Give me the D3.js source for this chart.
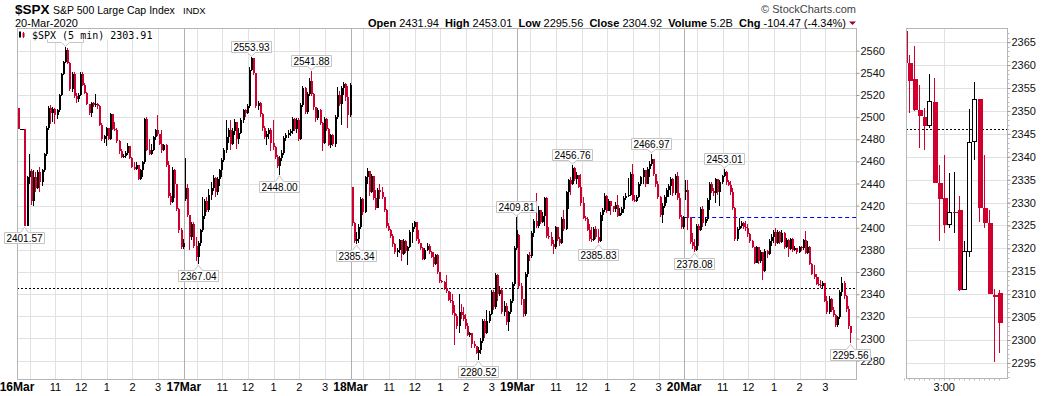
<!DOCTYPE html>
<html>
<head>
<meta charset="utf-8">
<script src="https://cdn.jsdelivr.net/npm/d3@7/dist/d3.min.js"></script>
<style>
  body { margin: 0; background: #fff; }
  svg { display: block; font-family: "Liberation Sans", Arial, sans-serif; }
</style>
</head>
<body>
<div class="chart"></div>
<script>
// sessions shown on the 5 min chart
const dayLabels = ["16Mar", "17Mar", "18Mar", "19Mar", "20Mar"];
const dayOpens = [2508.6, 2425.66, 2436.5, 2393.48, 2431.94];
// bars after the 9:30 open for 10:00 .. 3:00, and the labels printed under 11 .. 3
const hourBars = [6, 18, 30, 42, 54, 66];
const hourLabels = ["11", "12", "1", "2", "3"];
const yTicks = [2280, 2300, 2320, 2340, 2360, 2380, 2400, 2420, 2440, 2460, 2480, 2500, 2520, 2540, 2560];

// 5 min bars, [high, low, close]; open is the prior close
const mar16 = [
  [2508.6,2489,2489],[2489,2489,2489],[2489,2489,2489],[2489,2401.57,2402],[2447,2401.6,2446],
  [2467,2440,2451],[2453,2421,2424],[2452,2420,2446],[2450,2432,2436],[2452,2435,2450],
  [2455,2432,2441],[2453,2438,2452],[2468,2450,2467],[2492,2465,2490],[2510,2488,2508],
  [2511,2494,2504],[2509,2496,2507],[2508,2494,2502],[2507,2498,2506],[2521,2505,2520],
  [2540,2519,2539],[2551,2538,2550],[2562.98,2549,2561],[2562,2548,2549],[2550,2524,2525],
  [2541,2523,2539],[2541,2517,2519],[2522,2513,2516],[2522,2514,2520],[2541,2519,2539],
  [2541,2528,2529],[2531,2521,2522],[2523,2511,2512],[2512,2502,2504],[2514,2500,2513],
  [2514,2509,2511],[2521,2509,2512],[2513,2507,2510],[2511,2492,2493],[2495,2478,2480],
  [2484,2477,2483],[2491,2474,2490],[2490,2479,2480],[2504,2479,2503],[2503,2488,2489],
  [2496,2487,2488],[2490,2477,2478],[2479,2467,2469],[2471,2463,2464],[2467,2463,2465],
  [2469,2463,2468],[2477,2466,2474],[2474,2462,2463],[2464,2454,2455],[2459,2452,2453],
  [2459,2452,2457],[2457,2443,2444],[2453,2443,2452],[2460,2446,2459],[2499,2458,2498],
  [2500,2469,2470],[2480,2466,2467],[2476,2466,2470],[2483,2469,2482],[2489,2479,2488],
  [2502,2483,2485],[2485,2475,2476],[2488,2468,2470],[2476,2469,2475],[2476,2455,2457],
  [2460,2427,2429],[2431,2421,2423],[2455,2422,2452],[2453,2427,2440],[2440,2415,2417],
  [2418,2395,2398],[2400,2381,2383],[2390,2380.94,2386.13]
];
const mar17 = [
  [2463,2424,2436],[2440,2410,2412],[2412,2380,2392],[2405,2389,2403],[2405,2382,2384],
  [2392,2370,2374],[2388,2367.04,2386],[2399,2384,2398],[2428,2396,2411],[2426,2408,2424],
  [2428,2414,2416],[2435,2414,2430],[2441,2425,2436],[2448,2433,2445],[2446,2428,2432],
  [2446,2430,2444],[2453,2438,2452],[2463,2446,2461],[2472,2459,2470],[2497,2468,2482],
  [2490,2477,2488],[2497,2470,2476],[2490,2475,2487],[2498,2484,2496],[2496,2471,2480],
  [2490,2476,2486],[2499,2485,2497],[2507,2495,2506],[2507,2500,2504],[2512,2503,2510],
  [2545,2508,2543],[2553.93,2542,2553],[2553,2538,2540],[2534,2508,2510],[2515,2506,2513],
  [2514,2500,2503],[2504,2487,2490],[2492,2480,2482],[2487,2475,2485],[2490,2480,2488],
  [2490,2469,2477],[2497,2470,2473],[2474,2462,2464],[2466,2454,2456],[2465,2448,2463],
  [2470,2460,2468],[2483,2466,2481],[2486,2478,2484],[2488,2481,2486],[2489,2483,2487],
  [2500,2485,2498],[2499,2487,2489],[2499,2486,2497],[2499,2478,2480],[2513,2479,2511],
  [2528,2509,2526],[2527,2503,2505],[2523,2503,2521],[2535,2519,2533],[2541.88,2519,2521],
  [2522,2506,2509],[2508,2496,2499],[2508,2497,2506],[2507,2493,2495],[2496,2469,2477],
  [2500,2476,2498],[2499,2487,2489],[2490,2474,2475],[2485,2472,2484],[2485,2474,2476],
  [2502,2473,2500],[2527,2498,2520],[2524,2510,2512],[2528,2493,2526],[2532,2520,2530],
  [2531,2515,2518],[2528,2490,2502],[2531,2500,2529.19]
];
const mar18 = [
  [2437,2402,2404],[2405,2386,2388],[2396,2385.34,2390],[2403,2386,2401],[2428,2399,2426],
  [2427,2412,2414],[2447,2413,2446],[2453.57,2440,2451],[2450,2429,2432],[2449,2431,2447],
  [2446,2425,2427],[2434,2416,2418],[2436,2418,2434],[2440,2426,2432],[2437,2426,2428],
  [2424,2414,2416],[2417,2400,2402],[2404,2397,2398],[2399,2391,2393],[2394,2383,2385],
  [2386,2376,2378],[2382,2374,2380],[2390,2377,2389],[2388,2370,2376],[2390,2375,2388],
  [2389,2377,2379],[2384,2366,2383],[2398,2382,2396],[2404,2386,2401],[2406,2399,2405],
  [2404,2388,2390],[2398,2385,2386],[2386,2380,2382],[2383,2371,2372],[2382,2371,2380],
  [2386,2379,2384],[2385,2376,2378],[2379,2373,2374],[2378,2365,2367],[2376,2366,2375],
  [2376,2358,2360],[2360,2350,2352],[2353,2350,2351],[2352,2344,2346],[2357,2341,2343],
  [2343,2334,2335],[2342,2332,2334],[2340,2321,2323],[2330,2294,2320],[2322,2309,2311],
  [2340,2305,2324],[2331,2318,2321],[2328,2316,2318],[2322,2309,2311],[2314,2302,2303],
  [2306,2301,2305],[2305,2291,2295],[2298,2291,2293],[2292,2286,2287],[2292,2280.52,2290],
  [2300,2286,2298],[2318,2296,2316],[2318,2300,2305],[2326,2304,2316],[2325,2314,2322],
  [2344,2321,2342],[2344,2326,2328],[2359,2327,2357],[2358,2334,2340],[2347,2338,2344],
  [2346,2322,2324],[2334,2320,2329],[2332,2312,2315],[2325,2307,2324],[2336,2322,2334],
  [2351,2332,2349],[2384,2347,2382],[2409.81,2380,2398.1]
];
const mar19 = [
  [2394,2345,2347],[2350,2330,2336],[2336,2319.78,2322],[2360,2320,2358],[2376,2356,2375],
  [2378,2370,2374.5],[2397,2373,2395],[2408,2392,2406],[2431,2400,2402],[2420,2400,2416],
  [2416,2403,2405],[2414,2404,2411],[2428,2402,2427],[2428,2391,2393],[2401,2390,2392],
  [2396,2384,2385],[2389,2376,2383],[2402,2381,2401],[2401,2388,2390],[2392,2384,2386],
  [2410,2385,2408],[2416,2397,2399],[2433,2398,2432],[2444,2417,2443],[2446,2430,2440],
  [2456.76,2439,2454],[2455,2442,2444],[2450,2440,2448],[2445,2436,2437],[2449,2420,2422],
  [2428,2408,2409],[2411,2406,2408],[2410,2397,2398],[2403,2388,2390],[2401,2387,2389],
  [2401,2388,2399],[2402,2390,2392],[2399,2385.83,2388],[2414,2387,2412],[2418,2406,2416],
  [2431,2414,2429],[2430,2413,2415],[2426,2415,2424],[2423,2412,2420],[2420,2414,2417],
  [2423,2414,2421],[2430,2410,2411],[2418,2411,2413],[2419,2412,2417],[2429,2413,2427],
  [2431,2425,2429],[2445,2428,2430],[2450,2429,2449],[2458,2424,2425],[2430,2423,2424],
  [2430,2423,2428],[2441,2427,2440],[2447,2438,2446],[2454,2440,2452],[2451,2437,2440],
  [2455,2440,2453],[2460,2446,2458],[2466.97,2456,2462],[2462,2447,2449],[2449,2437,2440],
  [2442,2426,2428],[2429,2410,2412],[2422,2404,2420],[2430,2418,2428],[2436,2422,2434],
  [2440,2428,2438],[2446,2430,2444],[2445,2429,2431],[2449,2430,2447],[2450,2425,2427],
  [2431,2408,2410],[2412,2399,2401],[2411,2399,2409.39]
];
const mar20 = [
  [2443,2425,2434],[2443,2398,2409],[2410,2385,2387],[2395,2381,2384],[2390,2378.08,2380],
  [2403,2379,2402],[2403,2384,2398],[2419,2397,2417],[2420,2401,2404],[2410,2402,2408],
  [2427,2406,2425],[2441,2416,2440],[2441,2431,2433],[2436,2429,2431],[2445,2422,2444],
  [2441,2430,2432],[2443,2420,2441],[2448,2440,2447],[2453.01,2446,2450],[2451,2439,2441],
  [2443,2438,2439],[2442,2430,2432],[2436,2416,2418],[2419,2388,2390],[2401,2388,2399],
  [2409,2398,2402],[2406,2400,2404],[2405,2399,2401],[2406,2397,2400],[2403,2392,2394],
  [2395,2386,2388],[2389,2382,2383],[2382,2367,2368],[2384,2368,2383],[2383,2367,2370],
  [2380,2368,2378],[2378,2353,2361],[2381,2360,2379],[2380,2373,2376],[2390,2375,2388],
  [2394,2384,2392],[2398,2386,2396],[2400,2384,2386],[2398,2385,2396],[2397,2385,2387],
  [2398,2386,2395],[2396,2381,2383],[2391,2382,2389],[2390,2374,2381],[2391,2380,2390],
  [2391,2378,2380],[2384,2379,2382],[2381,2376,2378],[2384,2377,2383],[2384,2379,2382],
  [2390,2380,2389],[2397,2376,2377],[2388,2376,2383],[2384,2366,2367],[2368,2357,2358],
  [2366,2354,2356],[2358,2348,2349],[2356,2347,2348],[2353,2346,2347],[2352,2345,2350],
  [2350,2333,2334],[2338,2322,2324],[2338,2322,2336],[2337,2324,2326],[2328,2319,2321],
  [2322,2310,2312],[2320,2310,2319],[2344,2318,2342],[2356,2338,2350],[2352,2336,2338],
  [2339,2324,2327],[2329,2309,2311],[2311,2295.56,2304.92]
];

// labelled highs and lows: [session, bar, value, side]
// the 16Mar high label sits under the legend, so only its box edge shows
const callouts = [
  [0, 3, 2401.57, "below"], [0, 22, 2562.98, "hidden"],
  [1, 6, 2367.04, "below"], [1, 31, 2553.93, "above"], [1, 44, 2448.00, "below"], [1, 59, 2541.88, "above"],
  [2, 2, 2385.34, "below"], [2, 59, 2280.52, "below"], [2, 77, 2409.81, "above"],
  [3, 25, 2456.76, "above"], [3, 37, 2385.83, "below"], [3, 62, 2466.97, "above"],
  [4, 4, 2378.08, "below"], [4, 18, 2453.01, "above"], [4, 77, 2295.56, "below"]
];
const refLevel = 2346;
const priorClose = 2409.39;

// small panel on the right, [open, high, low, close]
const miniBars = [
  [2367.5,2367.5,2360,2360.4],[2360.4,2362.1,2349.6,2356.6],[2357,2364.1,2350,2350.2],
  [2350.2,2355.7,2341.8,2349],[2348.6,2350.6,2341.5,2346.8],[2346.9,2358.1,2346.2,2352],
  [2352,2357.1,2334.2,2334.3],[2334.3,2338.2,2321.7,2330.8],[2331.1,2340.4,2323.4,2325.2],
  [2325.2,2336.5,2324.4,2327.9],[2327.9,2336.7,2323.3,2327.9],[2328.4,2331.5,2310.7,2311],
  [2311,2321.7,2310.9,2319.4],[2319.4,2350.4,2318.2,2343.2],[2343.4,2356.3,2339.3,2352.4],
  [2352.6,2352.6,2325.8,2328.9],[2328.9,2340.4,2324.4,2325.5],[2325.5,2328.4,2310,2310],
  [2309.8,2311.2,2295.2,2309.3],[2310.3,2310.9,2297.2,2303.6]
];
const miniTimes = ["2:52","2:53","2:54","2:55","2:56","2:57","2:58","2:59","3:00","3:01",
  "3:02","3:03","3:04","3:05","3:06","3:07","3:08","3:09","3:10","3:11"];
const miniTicks = [2295, 2300, 2305, 2310, 2315, 2320, 2325, 2330, 2335, 2340, 2345, 2350, 2355, 2360, 2365];

const width = 1050, height = 396;
const plot = { left: 17, right: 856, top: 28, bottom: 379 };
const mini = { left: 906, right: 1007, top: 28, bottom: 378 };
const red = "#d0002e";
const gridColor = "#e1e1e1";
const frameColor = "#b5b5b5";

const svg = d3.select(".chart").append("svg")
    .attr("width", width)
    .attr("height", height);

// flatten the sessions into one bar list
const barsPerDay = 78;
const sessions = [mar16, mar17, mar18, mar19, mar20];
const candles = [];
sessions.forEach((rows, d) => {
    let prev = dayOpens[d];
    rows.forEach((r, i) => {
        candles.push({
            n: d * barsPerDay + i,
            o: prev,
            h: Math.max(r[0], prev, r[2]),
            l: Math.min(r[1], prev, r[2]),
            c: r[2]
        });
        prev = r[2];
    });
});

const x = d3.scaleLinear().domain([0, sessions.length * barsPerDay]).range([plot.left, 851]);
const y = d3.scaleLinear().domain([2263.4, 2580.5]).range([plot.bottom, plot.top]);
const px = v => Math.round(v) + 0.5;

svg.append("defs").append("clipPath").attr("id", "main-clip")
    .append("rect")
    .attr("x", plot.left).attr("y", plot.top)
    .attr("width", plot.right - plot.left).attr("height", plot.bottom - plot.top);

// grid
const grid = svg.append("g");
grid.selectAll(".hgrid").data(yTicks).join("line")
    .attr("x1", plot.left).attr("x2", plot.right)
    .attr("y1", d => px(y(d))).attr("y2", d => px(y(d)))
    .attr("stroke", gridColor);

const hourTicks = [];
dayLabels.forEach((label, d) => hourBars.forEach(b => hourTicks.push(d * barsPerDay + b)));
grid.selectAll(".vgrid").data(hourTicks).join("line")
    .attr("x1", d => px(x(d))).attr("x2", d => px(x(d)))
    .attr("y1", plot.top).attr("y2", plot.bottom)
    .attr("stroke", gridColor);

grid.selectAll(".daygrid").data(dayLabels.slice(1)).join("line")
    .attr("x1", (d, i) => px(x((i + 1) * barsPerDay))).attr("x2", (d, i) => px(x((i + 1) * barsPerDay)))
    .attr("y1", plot.top).attr("y2", plot.bottom)
    .attr("stroke", "#b0b0b0");

// reference lines
svg.append("line")
    .attr("x1", plot.left).attr("x2", plot.right)
    .attr("y1", px(y(refLevel))).attr("y2", px(y(refLevel)))
    .attr("stroke", "#000").attr("stroke-dasharray", "2,2");
svg.append("line")
    .attr("x1", x(4 * barsPerDay)).attr("x2", plot.right)
    .attr("y1", px(y(priorClose))).attr("y2", px(y(priorClose)))
    .attr("stroke", "#0000ff").attr("stroke-dasharray", "4,3");

// candles
const bars = svg.append("g")
    .attr("clip-path", "url(#main-clip)")
    .attr("shape-rendering", "crispEdges");

bars.selectAll(".wick").data(candles).join("line")
    .attr("x1", d => px(x(d.n + 0.5))).attr("x2", d => px(x(d.n + 0.5)))
    .attr("y1", d => y(d.h)).attr("y2", d => y(d.l))
    .attr("stroke", d => d.c >= d.o ? "#000" : red);

bars.selectAll(".body").data(candles).join("rect")
    .attr("x", d => Math.round(x(d.n + 0.5)) - 0.5)
    .attr("y", d => y(Math.max(d.o, d.c)))
    .attr("width", 2)
    .attr("height", d => Math.max(1, Math.abs(y(d.o) - y(d.c))))
    .attr("fill", d => d.c >= d.o ? "#000" : red);

// callouts
const notes = svg.append("g").attr("font-size", 10);
callouts.forEach(([d, i, v, side]) => {
    const cx = px(x(d * barsPerDay + i + 0.5));
    const tip = y(v);
    const g = notes.append("g");
    const box = g.append("path").attr("fill", "#fff").attr("stroke", "#c4c4c4");
    let w = 36;
    let t = null;
    if (side !== "hidden") {
        t = g.append("text").attr("text-anchor", "middle").attr("x", cx).text(v.toFixed(2));
        w = Math.round(t.node().getComputedTextLength() + 4);
    }
    const x0 = cx - Math.round(w / 2), x1 = x0 + w;
    let top, bot, path;
    if (side === "below") {
        top = px(tip + 6); bot = top + 11;
        path = `M${x0},${top}H${cx - 4}L${cx},${tip + 1}L${cx + 4},${top}H${x1}V${bot}H${x0}Z`;
    } else {
        bot = px(tip - 5); top = bot - 11;
        path = `M${x0},${bot}H${cx - 4}L${cx},${tip - 1}L${cx + 4},${bot}H${x1}V${top}H${x0}Z`;
    }
    box.attr("d", path);
    if (t) t.attr("y", top + 9);
});

// frame
svg.append("rect")
    .attr("x", plot.left + 0.5).attr("y", plot.top + 0.5)
    .attr("width", plot.right - plot.left).attr("height", plot.bottom - plot.top)
    .attr("fill", "none").attr("stroke", frameColor);

// price axis
const yAxis = d3.axisRight(y).tickValues(yTicks).tickSize(3).tickPadding(1).tickFormat(d3.format("d"));
svg.append("g")
    .attr("transform", `translate(${plot.right + 0.5},0)`)
    .call(yAxis)
    .call(g => g.select(".domain").remove())
    .call(g => g.selectAll("line").attr("stroke", "#999"))
    .call(g => g.selectAll("text").attr("font-size", 11).attr("fill", "#111")
        .attr("font-family", "Liberation Sans, Arial, sans-serif"));

// bring the last low label over the axis labels like the original
notes.raise();

// time axis
svg.selectAll(".daylabel").data(dayLabels).join("text")
    .attr("x", (d, i) => x(i * barsPerDay))
    .attr("y", 391)
    .attr("text-anchor", "middle")
    .attr("font-size", 12)
    .attr("font-weight", "bold")
    .text(d => d);

const hourText = [];
dayLabels.forEach((label, d) => hourLabels.forEach((h, k) => hourText.push({ n: d * barsPerDay + hourBars[k + 1], h })));
svg.selectAll(".hourlabel").data(hourText).join("text")
    .attr("x", d => x(d.n))
    .attr("y", 391)
    .attr("text-anchor", "middle")
    .attr("font-size", 11)
    .text(d => d.h);

// legend inside the plot
const legend = svg.append("g");
legend.append("rect").attr("x", 18).attr("y", 29).attr("width", 137).attr("height", 10.5).attr("fill", "#fff");
legend.append("rect").attr("x", 19).attr("y", 32).attr("width", 2).attr("height", 5).attr("fill", "#000");
legend.append("line").attr("x1", 20).attr("x2", 20).attr("y1", 31).attr("y2", 38).attr("stroke", "#000");
legend.append("rect").attr("x", 22.5).attr("y", 33).attr("width", 2).attr("height", 4).attr("fill", red);
legend.append("line").attr("x1", 23.5).attr("x2", 23.5).attr("y1", 32).attr("y2", 38).attr("stroke", red);
legend.append("text")
    .attr("x", 32).attr("y", 38.5)
    .attr("font-family", "DejaVu Sans Mono, monospace")
    .attr("font-size", 10)
    .text("$SPX (5 min) 2303.91");

// header
svg.append("text").attr("x", 15).attr("y", 14).attr("font-size", 13.5).attr("font-weight", "bold").text("$SPX");
svg.append("text").attr("x", 53).attr("y", 14).attr("font-size", 10.5).text("S&P 500 Large Cap Index");
svg.append("text").attr("x", 183).attr("y", 14).attr("font-size", 9.5).text("INDX");
svg.append("text").attr("x", 15).attr("y", 27).attr("font-size", 11).text("20-Mar-2020");
svg.append("text").attr("x", 856).attr("y", 13).attr("font-size", 11).attr("fill", "#444")
    .attr("text-anchor", "end").text("\u00a9 StockCharts.com");

const statParts = [["Open", "2431.94"], ["High", "2453.01"], ["Low", "2295.56"], ["Close", "2304.92"], ["Volume", "5.2B"], ["Chg", "-104.47 (-4.34%)"]];
const stats = svg.append("text").attr("x", 368).attr("y", 27).attr("font-size", 11).style("white-space", "pre");
statParts.forEach(([k, v], i) => {
    stats.append("tspan").attr("font-weight", "bold").text((i ? "  " : "") + k);
    stats.append("tspan").text(" " + v);
});
const statEnd = 368 + stats.node().getComputedTextLength();
svg.append("path")
    .attr("d", `M${statEnd + 3},21.5h7l-3.5,3.5z`)
    .attr("fill", "#a0002a");

// ---- small panel ----
const mx = d3.scaleLinear().domain([0, 20]).range([904.3, 1004.3]);
const my = d3.scaleLinear().domain([2291.7, 2368.1]).range([mini.bottom, mini.top]);

svg.select("defs").append("clipPath").attr("id", "mini-clip")
    .append("rect")
    .attr("x", mini.left).attr("y", mini.top)
    .attr("width", mini.right - mini.left).attr("height", mini.bottom - mini.top);

const mg = svg.append("g");
mg.selectAll(".mh").data(miniTicks).join("line")
    .attr("x1", mini.left).attr("x2", mini.right)
    .attr("y1", d => px(my(d))).attr("y2", d => px(my(d)))
    .attr("stroke", gridColor);
const hourIdx = miniTimes.map((t, i) => t.endsWith(":00") ? i : -1).filter(i => i >= 0);
mg.selectAll(".mv").data(hourIdx).join("line")
    .attr("x1", d => px(mx(d))).attr("x2", d => px(mx(d)))
    .attr("y1", mini.top).attr("y2", mini.bottom)
    .attr("stroke", gridColor);
mg.append("line")
    .attr("x1", mini.left).attr("x2", mini.right)
    .attr("y1", px(my(refLevel))).attr("y2", px(my(refLevel)))
    .attr("stroke", "#000").attr("stroke-dasharray", "2,2");

const mc = svg.append("g").attr("clip-path", "url(#mini-clip)").attr("shape-rendering", "crispEdges");
mc.selectAll(".mw").data(miniBars).join("line")
    .attr("x1", (d, i) => px(mx(i))).attr("x2", (d, i) => px(mx(i)))
    .attr("y1", d => my(d[1])).attr("y2", d => my(d[2]))
    .attr("stroke", d => d[3] >= d[0] ? "#000" : red);
mc.selectAll(".mb").data(miniBars).join("rect")
    .attr("x", (d, i) => Math.round(mx(i)) - 1.5)
    .attr("y", d => my(Math.max(d[0], d[3])))
    .attr("width", d => d[3] > d[0] ? 4 : 5)
    .attr("height", d => Math.max(1, Math.abs(my(d[0]) - my(d[3]))))
    .attr("fill", d => d[3] > d[0] ? "#fff" : red)
    .attr("stroke", d => d[3] > d[0] ? "#000" : "none");

svg.append("rect")
    .attr("x", mini.left + 0.5).attr("y", mini.top + 0.5)
    .attr("width", mini.right - mini.left).attr("height", mini.bottom - mini.top)
    .attr("fill", "none").attr("stroke", frameColor);

// minor ticks on the small panel
svg.append("g").selectAll("line").data(d3.range(2292, 2368)).join("line")
    .attr("x1", mini.right + 0.5).attr("x2", mini.right + 2.5)
    .attr("y1", d => px(my(d))).attr("y2", d => px(my(d)))
    .attr("stroke", "#bbb");
svg.append("g").selectAll("line").data(miniTimes).join("line")
    .attr("x1", (d, i) => px(mx(i))).attr("x2", (d, i) => px(mx(i)))
    .attr("y1", mini.bottom + 0.5).attr("y2", mini.bottom + 2.5)
    .attr("stroke", "#bbb");

const myAxis = d3.axisRight(my).tickValues(miniTicks).tickSize(3).tickPadding(1).tickFormat(d3.format("d"));
svg.append("g")
    .attr("transform", `translate(${mini.right + 0.5},0)`)
    .call(myAxis)
    .call(g => g.select(".domain").remove())
    .call(g => g.selectAll("line").attr("stroke", "#999"))
    .call(g => g.selectAll("text").attr("font-size", 11).attr("fill", "#111")
        .attr("font-family", "Liberation Sans, Arial, sans-serif"));

svg.selectAll(".mtime").data(hourIdx).join("text")
    .attr("x", d => mx(d))
    .attr("y", 391)
    .attr("text-anchor", "middle")
    .attr("font-size", 11)
    .text(d => miniTimes[d]);
</script>
</body>
</html>
